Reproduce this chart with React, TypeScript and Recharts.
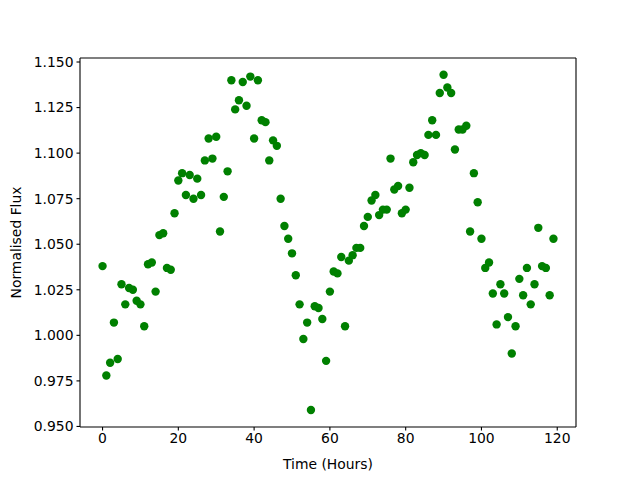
import { ScatterChart, Scatter, XAxis, YAxis, ReferenceLine } from 'recharts';

// hours of observation
const hours: number[] = Array.from({ length: 120 }, (_, i) => i);

// normalised flux
const flux: number[] = [
  1.038, 0.978, 0.985, 1.007, 0.987, 1.028, 1.017, 1.026, 1.025, 1.019,
  1.017, 1.005, 1.039, 1.040, 1.024, 1.055, 1.056, 1.037, 1.036, 1.067,
  1.085, 1.089, 1.077, 1.088, 1.075, 1.086, 1.077, 1.096, 1.108, 1.097,
  1.109, 1.057, 1.076, 1.090, 1.140, 1.124, 1.129, 1.139, 1.126, 1.142,
  1.108, 1.140, 1.118, 1.117, 1.096, 1.107, 1.104, 1.075, 1.060, 1.053,
  1.045, 1.033, 1.017, 0.998, 1.007, 0.959, 1.016, 1.015, 1.009, 0.986,
  1.024, 1.035, 1.034, 1.043, 1.005, 1.041, 1.044, 1.048, 1.048, 1.060,
  1.065, 1.074, 1.077, 1.066, 1.069, 1.069, 1.097, 1.080, 1.082, 1.067,
  1.069, 1.081, 1.095, 1.099, 1.100, 1.099, 1.110, 1.118, 1.110, 1.133,
  1.143, 1.136, 1.133, 1.102, 1.113, 1.113, 1.115, 1.057, 1.089, 1.073,
  1.053, 1.037, 1.040, 1.023, 1.006, 1.028, 1.023, 1.010, 0.990, 1.005,
  1.031, 1.022, 1.037, 1.017, 1.028, 1.059, 1.038, 1.037, 1.022, 1.053,
];

const xTicks = [0, 20, 40, 60, 80, 100, 120];
const yTicks = [0.95, 0.975, 1.0, 1.025, 1.05, 1.075, 1.1, 1.125, 1.15];

const X_DOMAIN: [number, number] = [-5.95, 124.95];
const Y_DOMAIN: [number, number] = [0.9497, 1.1522];

const data = hours.map((h, i) => ({ time: h, flux: flux[i] }));

const font = { fill: '#000', fontSize: 13.9, fontFamily: 'DejaVu Sans' };

// @ts-ignore
const Dot = ({ cx, cy }: any) => <circle cx={cx} cy={cy} r={4.2} fill="#008000" />;

export default function App() {
  return (
    <div style={{ position: 'absolute', left: 0, top: 0, width: 640, height: 480, background: '#fff' }}>
      <ScatterChart width={640} height={480} margin={{ top: 58, right: 64, bottom: 0, left: 0 }}>
        <XAxis
          type="number"
          dataKey="time"
          domain={X_DOMAIN}
          ticks={xTicks}
          allowDataOverflow
          tick={font}
          tickSize={3.5}
          tickMargin={3}
          height={53}
          axisLine={{ stroke: '#000', strokeWidth: 1.1 }}
          tickLine={{ stroke: '#000', strokeWidth: 1.1 }}
          label={{ value: 'Time (Hours)', position: 'insideBottom', offset: 11, style: font }}
        />
        <YAxis
          type="number"
          dataKey="flux"
          domain={Y_DOMAIN}
          ticks={yTicks}
          allowDataOverflow
          tickFormatter={(v: number) => v.toFixed(3)}
          tick={font}
          tickSize={3.5}
          tickMargin={3}
          width={80}
          axisLine={{ stroke: '#000', strokeWidth: 1.1 }}
          tickLine={{ stroke: '#000', strokeWidth: 1.1 }}
          label={{ value: 'Normalised Flux', angle: -90, position: 'insideLeft', offset: 16, style: { ...font, textAnchor: 'middle' } }}
        />
        <ReferenceLine y={Y_DOMAIN[1]} stroke="#000" strokeWidth={1.1} />
        <ReferenceLine x={X_DOMAIN[1]} stroke="#000" strokeWidth={1.1} />
        <Scatter data={data} shape={<Dot />} isAnimationActive={false} />
      </ScatterChart>
    </div>
  );
}
